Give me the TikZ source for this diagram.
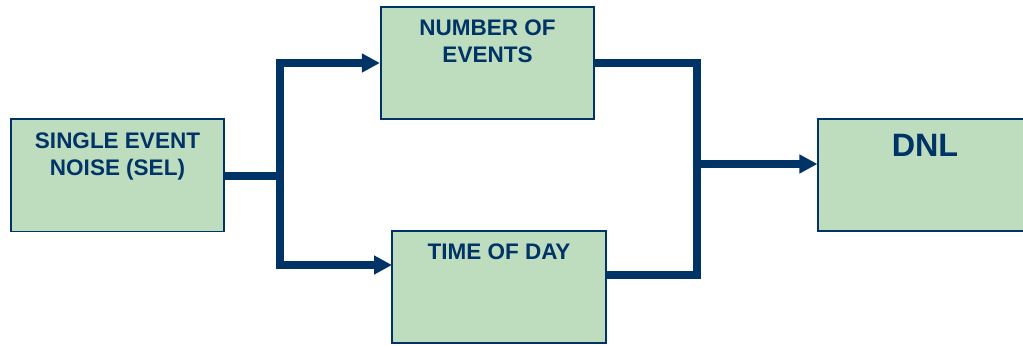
\documentclass[tikz,border=0pt]{standalone}
\usepackage{fontspec}
\setmainfont{Liberation Sans}
\usetikzlibrary{arrows.meta, positioning}

\definecolor{boxgreen}{RGB}{190,221,190}
\definecolor{navy}{RGB}{0,51,102}

\begin{document}
\begin{tikzpicture}[x=0.025cm, y=-0.025cm,
    block/.style={draw=navy, line width=1.4pt, fill=boxgreen,
      minimum width=5.33cm, minimum height=2.8cm, inner sep=0pt},
    title/.style={text=navy, inner sep=0pt, align=center,
      font=\fontsize{16pt}{19.2pt}\selectfont\bfseries},
    wire/.style={draw=navy, line width=5pt, line join=miter},
    feed/.style={wire, -{Triangle[length=0.45cm, width=0.45cm]}}]
    \useasboundingbox (0,0) rectangle (1023,346);

    \node[block] (sel) at (117.5,175.5) {};
    \node[block] (num) at (487.5,63) {};
    \node[block] (time) at (499,287) {};
    \node[block] (dnl) at (925,175) {};

    \node[title, below=0.35cm of sel.north] (seltext) {SINGLE EVENT\\NOISE (SEL)};
    \node[title, below=0.35cm of num.north] (numtext) {NUMBER OF\\EVENTS};
    \node[title, below=0.33cm of time.north] (timetext) {TIME OF DAY};
    \node[title, below=0.4cm of dnl.north, font=\fontsize{23pt}{27pt}\selectfont\bfseries] (dnltext) {DNL};

    \coordinate (split) at (280,176);
    \coordinate (timein) at (392,265);
    \coordinate (timeout) at (606,275);
    \coordinate (join) at (697,164);

    \draw[wire] (sel.east |- split) -- (split);
    \draw[feed] (split) |- (num.west);
    \draw[feed] (split) |- (timein);
    \draw[wire] (num.east) -| (join) |- (timeout);
    \draw[feed] (join) -- (dnl.west |- join);
\end{tikzpicture}
\end{document}
